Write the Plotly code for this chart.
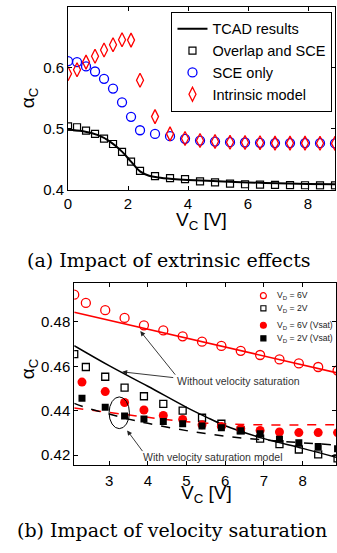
import plotly.graph_objects as go

# ---------------- data: (a) Impact of extrinsic effects ----------------
vc_a = [0, 0.3, 0.6, 0.9, 1.2, 1.5, 1.8, 2.1, 2.4, 2.9, 3.4, 3.9, 4.4, 4.9, 5.4,
        5.9, 6.4, 6.9, 7.4, 7.9, 8.4, 8.9]
overlap_sce = [0.504, 0.5025, 0.497, 0.4916, 0.484, 0.475, 0.462, 0.446, 0.431,
               0.4224, 0.419, 0.4175, 0.4138, 0.412, 0.410, 0.409, 0.4085, 0.408,
               0.4075, 0.4073, 0.4072, 0.4071]
sce_only = [0.611, 0.6094, 0.6023, 0.594, 0.582, 0.566, 0.5434, 0.5196, 0.4976,
            0.4916, 0.4878, 0.4835, 0.4807, 0.479, 0.478, 0.4775, 0.477, 0.4765,
            0.4765, 0.4765, 0.4763, 0.476]
intrinsic = [0.5904, 0.597, 0.6094, 0.619, 0.6293, 0.638, 0.646, 0.6455, 0.5796,
             0.520, 0.4916, 0.484, 0.4807, 0.479, 0.478, 0.4775, 0.477, 0.4765,
             0.4765, 0.4765, 0.4763, 0.476]
vc_tcad = [0, 0.5, 1.0, 1.4, 1.8, 2.1, 2.4, 2.7, 3.0, 3.5, 4, 5, 6, 7, 8, 8.9]
tcad = [0.4985, 0.4960, 0.4895, 0.4790, 0.4625, 0.4460, 0.4300, 0.4230, 0.4200,
        0.4175, 0.4160, 0.4140, 0.4120, 0.4105, 0.4095, 0.4090]

# ---------------- data: (b) Impact of velocity saturation ----------------
vc_b_open = [2.1, 2.4, 2.9, 3.4, 3.9, 4.4, 4.9, 5.4, 5.9, 6.4, 6.9, 7.4, 7.9, 8.4, 8.9]
vd6_open = [0.4923, 0.4886, 0.4853, 0.4818, 0.4785, 0.4762, 0.4735, 0.4711, 0.4692,
            0.4670, 0.4651, 0.4631, 0.4613, 0.4597, 0.4581]
vd2_open = [0.4655, 0.4597, 0.4553, 0.4504, 0.4465, 0.4431, 0.4400, 0.4368, 0.4341,
            0.4311, 0.4274, 0.4249, 0.4225, 0.4203, 0.4185]
vc_b_sat = [2.3, 2.9, 3.4, 3.9, 4.4, 4.9, 5.4, 5.9, 6.4, 6.9, 7.4, 7.9, 8.4, 8.9]
vd6_sat = [0.4529, 0.4486, 0.4437, 0.4403, 0.4378, 0.4360, 0.4336, 0.4329, 0.4319,
           0.4311, 0.4304, 0.4301, 0.4301, 0.4301]
vd2_sat = [0.4456, 0.4415, 0.4376, 0.4362, 0.4351, 0.4341, 0.4331, 0.4323, 0.4310,
           0.4296, 0.4271, 0.4255, 0.4239, 0.4228]
vc_b_line = [2.1, 3, 4, 5, 6, 7, 8, 8.9]
model6 = [0.4844, 0.4808, 0.4768, 0.4727, 0.4687, 0.4646, 0.4606, 0.4570]
vc_b_line2 = [2.1, 3, 4, 5, 5.5, 6, 7, 8, 8.9]
model2 = [0.4693, 0.4603, 0.4510, 0.4415, 0.4372, 0.4332, 0.4274, 0.4230, 0.4188]
model6_sat = [0.4412, 0.4392, 0.4370, 0.4350, 0.4340, 0.4336, 0.4336, 0.4337]
vc_b_line3 = [2.1, 2.5, 3, 3.5, 4, 5, 6, 7, 8, 8.9]
model2_sat = [0.4433, 0.4408, 0.4385, 0.4362, 0.4343, 0.4310, 0.4285, 0.4268,
              0.4255, 0.4245]

legend_b_labels = ["V<sub>D</sub> = 6V", "V<sub>D</sub> = 2V",
                   "V<sub>D</sub> = 6V (Vsat)", "V<sub>D</sub> = 2V (Vsat)"]

W, H = 337, 553
SANS = "Liberation Sans"
SERIF = "DejaVu Serif"


def px(p):
    return p / W


def py(p):
    return 1 - p / H


RED = "#ff0000"
BLUE = "#0000ff"

fig = go.Figure()

# (a)
fig.add_trace(go.Scatter(x=vc_tcad, y=tcad, mode="lines", name="TCAD results",
                         line=dict(color="black", width=2, shape="spline"),
                         xaxis="x", yaxis="y", legend="legend"))
fig.add_trace(go.Scatter(x=vc_a, y=overlap_sce, mode="markers", name="Overlap and SCE",
                         marker=dict(symbol="square-open", size=7, color="black",
                                     line=dict(width=1.2)),
                         xaxis="x", yaxis="y", legend="legend"))
fig.add_trace(go.Scatter(x=vc_a, y=sce_only, mode="markers", name="SCE only",
                         marker=dict(symbol="circle-open", size=9, color=BLUE,
                                     line=dict(width=1.3)),
                         xaxis="x", yaxis="y", legend="legend"))
fig.add_trace(go.Scatter(x=vc_a, y=intrinsic, mode="markers", name="Intrinsic model",
                         marker=dict(symbol="diamond-tall-open", size=10, color=RED,
                                     line=dict(width=1.3)),
                         xaxis="x", yaxis="y", legend="legend"))

# (b) lines
fig.add_trace(go.Scatter(x=vc_b_line, y=model6, mode="lines", showlegend=False,
                         line=dict(color=RED, width=1.5), xaxis="x2", yaxis="y2"))
fig.add_trace(go.Scatter(x=vc_b_line2, y=model2, mode="lines", showlegend=False,
                         line=dict(color="black", width=1.5, shape="spline"),
                         xaxis="x2", yaxis="y2"))
fig.add_trace(go.Scatter(x=vc_b_line, y=model6_sat, mode="lines", showlegend=False,
                         line=dict(color=RED, width=1.5, dash="dash", shape="spline"),
                         xaxis="x2", yaxis="y2"))
fig.add_trace(go.Scatter(x=vc_b_line3, y=model2_sat, mode="lines", showlegend=False,
                         line=dict(color="black", width=1.5, dash="dash", shape="spline"),
                         xaxis="x2", yaxis="y2"))
# (b) markers
b_styles = [dict(symbol="circle-open", size=9, color=RED, line=dict(width=1.3, color=RED)),
            dict(symbol="square-open", size=7, color="black", line=dict(width=1.3, color="black")),
            dict(symbol="circle", size=9, color=RED),
            dict(symbol="square", size=7, color="black")]
b_x = [vc_b_open, vc_b_open, vc_b_sat, vc_b_sat]
b_y = [vd6_open, vd2_open, vd6_sat, vd2_sat]
for i in range(4):
    fig.add_trace(go.Scatter(x=b_x[i], y=b_y[i], mode="markers", name=legend_b_labels[i],
                             marker=b_styles[i], showlegend=False,
                             xaxis="x2", yaxis="y2"))

axis_common = dict(showline=True, linecolor="black", linewidth=1, mirror="ticks",
                   ticks="inside", ticklen=4, tickcolor="black", showgrid=False,
                   zeroline=False, tickfont=dict(family=SANS, size=15, color="black"))

fig.update_layout(
    width=W, height=H, margin=dict(l=0, r=0, t=0, b=0),
    paper_bgcolor="white", plot_bgcolor="white",
    xaxis=dict(domain=[px(65), px(336)], range=[0, 8.9], tickvals=[0, 2, 4, 6, 8],
               anchor="y", **axis_common),
    yaxis=dict(domain=[py(192.5), py(7)], range=[0.4, 0.7], tickvals=[0.4, 0.5, 0.6],
               ticktext=["0.4", "0.5", "0.6"], anchor="x", **axis_common),
    xaxis2=dict(domain=[px(71.3), 1.0], range=[2.1, 8.86], tickvals=[3, 4, 5, 6, 7, 8],
                anchor="y2", ticklabelstandoff=2, **axis_common),
    yaxis2=dict(domain=[py(471.7), py(287.3)], range=[0.41556, 0.4975],
                tickvals=[0.42, 0.44, 0.46, 0.48], ticktext=["0.42", "0.44", "0.46", "0.48"],
                anchor="x2", **axis_common),
    legend=dict(x=px(170), y=py(12), xanchor="left", yanchor="top",
                bordercolor="black", borderwidth=1, bgcolor="white",
                font=dict(family=SANS, size=14.5, color="black"), tracegroupgap=0),
    showlegend=True,
)

ann = []
# axis titles
ann.append(dict(text="V<sub>C</sub> [V]", x=px(200.5), y=py(224), xref="paper", yref="paper",
                showarrow=False, xanchor="center", yanchor="middle",
                font=dict(family=SANS, size=19, color="black")))
ann.append(dict(text="α<sub>C</sub>", x=px(25), y=py(99), xref="paper", yref="paper",
                showarrow=False, textangle=-90, xanchor="center", yanchor="middle",
                font=dict(family=SANS, size=19, color="black")))
ann.append(dict(text="V<sub>C</sub> [V]", x=px(206), y=py(501), xref="paper", yref="paper",
                showarrow=False, xanchor="center", yanchor="middle",
                font=dict(family=SANS, size=19, color="black")))
ann.append(dict(text="α<sub>C</sub>", x=px(25), y=py(374), xref="paper", yref="paper",
                showarrow=False, textangle=-90, xanchor="center", yanchor="middle",
                font=dict(family=SANS, size=19, color="black")))
# captions
ann.append(dict(text="(a) Impact of extrinsic effects", x=px(167), y=py(264),
                xref="paper", yref="paper", showarrow=False, xanchor="center",
                yanchor="middle", font=dict(family=SERIF, size=19, color="black")))
ann.append(dict(text="(b) Impact of velocity saturation", x=px(171), y=py(538),
                xref="paper", yref="paper", showarrow=False, xanchor="center",
                yanchor="middle", font=dict(family=SERIF, size=19, color="black")))
# in-plot labels
ann.append(dict(text="Without velocity saturation", x=px(238.5), y=py(387),
                xref="paper", yref="paper", showarrow=False, xanchor="center",
                yanchor="middle", font=dict(family=SANS, size=10.5, color="#333")))
ann.append(dict(text="With velocity saturation model", x=px(212), y=py(463.5),
                xref="paper", yref="paper", showarrow=False, xanchor="center",
                yanchor="middle", font=dict(family=SANS, size=10.5, color="#333")))
# arrows
for (hx, hy, tx, ty) in [(3.805, 0.47587, 4.739, 0.45556),
                         (3.339, 0.4575, 4.695, 0.45484),
                         (3.466, 0.4311, 3.891, 0.4211)]:
    ann.append(dict(x=hx, y=hy, ax=tx, ay=ty, xref="x2", yref="y2", axref="x2", ayref="y2",
                    text="", showarrow=True, arrowhead=2, arrowsize=1.1, arrowwidth=0.9,
                    arrowcolor="#222"))

# legend of (b): keys drawn as small shapes, labels as text
leg_y = [300.0, 312.8, 330.0, 343.3]
leg_kx = 263.3
shapes = []
for i, yy in enumerate(leg_y):
    ann.append(dict(text=legend_b_labels[i], x=px(275.5), y=py(yy), xref="paper", yref="paper",
                    showarrow=False, xanchor="left", yanchor="middle",
                    font=dict(family=SANS, size=8.6, color="#222")))
    r = 3.0
    if i in (0, 2):
        shapes.append(dict(type="circle", xref="paper", yref="paper",
                           x0=px(leg_kx - r), x1=px(leg_kx + r), y0=py(yy + r), y1=py(yy - r),
                           line=dict(color=RED, width=1.2),
                           fillcolor=RED if i == 2 else "rgba(0,0,0,0)"))
    else:
        r = 2.6
        shapes.append(dict(type="rect", xref="paper", yref="paper",
                           x0=px(leg_kx - r), x1=px(leg_kx + r), y0=py(yy + r), y1=py(yy - r),
                           line=dict(color="black", width=1.1),
                           fillcolor="black" if i == 3 else "rgba(0,0,0,0)"))

shapes.append(dict(type="circle", xref="x2", yref="y2", x0=3.0, x1=3.525, y0=0.4319,
                   y1=0.4462, line=dict(color="black", width=1)))
fig.update_layout(annotations=ann, shapes=shapes)

fig.write_html("out.html", config=dict(displayModeBar=False),
               post_script="document.body.style.margin='0px';"
                           "document.body.style.overflow='hidden';")
